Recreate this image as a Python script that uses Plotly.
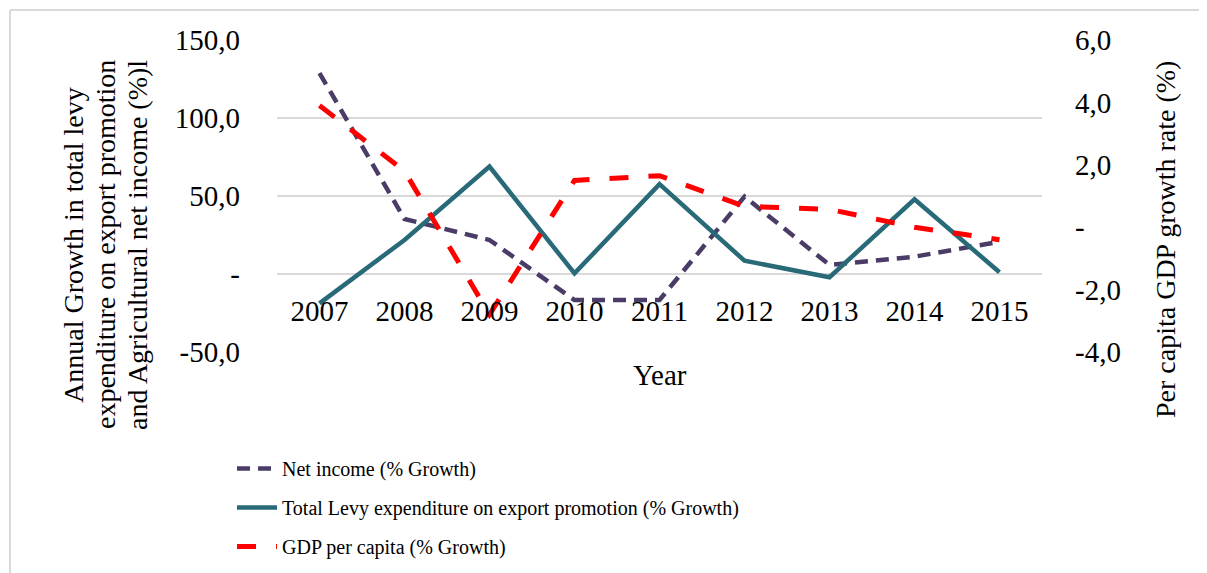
import plotly.graph_objects as go

years = ["2007", "2008", "2009", "2010", "2011", "2012", "2013", "2014", "2015"]
net_income = [128.8, 35.3, 21.8, -16.7, -16.7, 49.6, 5.8, 11.1, 20.7]
levy = [-18.8, 21.8, 68.9, 0.4, 57.6, 8.5, -2.1, 47.9, 1.1]
gdp = [3.9, 1.8, -2.8, 1.5, 1.65, 0.67, 0.57, 0.0, -0.4]

left_vals = [-50, 0, 50, 100, 150]
left_text = ["-50,0", "-", "50,0", "100,0", "150,0"]
right_vals = [-4, -2, 0, 2, 4, 6]
right_text = ["-4,0", "-2,0", "-", "2,0", "4,0", "6,0"]

FONT = "Liberation Serif, Times New Roman, serif"
OFF = 8  # page body margin
W, H = 1207 - OFF, 573 - OFF
PL, PT = 277, 40          # plot area top-left in page pixels
PW, PH = 765, 312         # plot area size
ML, MT = PL - OFF, PT - OFF
MR, MB = W - ML - PW, H - MT - PH


def px(x):
    return (x - PL) / PW


def py(y):
    return (PT + PH - y) / PH


fig = go.Figure()
fig.add_trace(go.Scatter(
    x=years, y=net_income, mode="lines", name="Net income (% Growth)",
    line=dict(color="#4A3C66", width=4.5, dash="13px,8px"),
    legendgroup="a"))
fig.add_trace(go.Scatter(
    x=years, y=levy, mode="lines",
    name="Total Levy expenditure on export promotion (% Growth)",
    line=dict(color="#296A79", width=4.5), legendgroup="b"))
fig.add_trace(go.Scatter(
    x=years, y=gdp, mode="lines", name="GDP per capita (% Growth)",
    line=dict(color="#FF0000", width=5, dash="19px,20px"),
    yaxis="y2", legendgroup="c"))

fig.update_layout(
    width=W, height=H,
    margin=dict(l=ML, r=MR, t=MT, b=MB, autoexpand=False),
    paper_bgcolor="white", plot_bgcolor="white",
    font=dict(family=FONT, size=29, color="black"),
    xaxis=dict(type="category", range=[-0.5, 8.5], anchor="free",
               position=0.25, showgrid=False, zeroline=False,
               showline=False, ticks="", ticklabelstandoff=17,
               tickfont=dict(size=29)),
    yaxis=dict(range=[-50, 150], tickvals=left_vals, ticktext=left_text,
               showgrid=True, gridcolor="#D9D9D9", gridwidth=1.5,
               zeroline=False, showline=False, ticks="",
               ticklabelstandoff=36, tickfont=dict(size=29)),
    yaxis2=dict(range=[-4, 6], tickvals=right_vals, ticktext=right_text,
                overlaying="y", side="right", showgrid=False,
                zeroline=False, showline=False, ticks="",
                ticklabelstandoff=32, tickfont=dict(size=29)),
    showlegend=True,
    legend=dict(x=px(232), y=py(449), xanchor="left", yanchor="top",
                font=dict(size=20, family=FONT), bgcolor="rgba(0,0,0,0)",
                traceorder="grouped", tracegroupgap=10, itemwidth=40),
    shapes=[
        dict(type="line", xref="paper", yref="paper",
             x0=px(10), x1=px(1207), y0=py(10), y1=py(10),
             line=dict(color="#D9D9D9", width=2)),
        dict(type="line", xref="paper", yref="paper",
             x0=px(10), x1=px(10), y0=py(10), y1=py(573),
             line=dict(color="#D9D9D9", width=2)),
    ],
    annotations=[
        dict(text="Year", xref="paper", yref="paper", x=0.5, y=py(375),
             showarrow=False, font=dict(size=29), xanchor="center",
             yanchor="middle"),
        dict(text="Annual Growth in total levy", xref="paper", yref="paper",
             x=px(73), y=py(245), textangle=-90, showarrow=False,
             font=dict(size=28), xanchor="center", yanchor="middle"),
        dict(text="expenditure on export promotion", xref="paper",
             yref="paper", x=px(105), y=py(245), textangle=-90,
             showarrow=False, font=dict(size=28), xanchor="center",
             yanchor="middle"),
        dict(text="and Agricultural net income (%)l", xref="paper",
             yref="paper", x=px(137), y=py(245), textangle=-90,
             showarrow=False, font=dict(size=28), xanchor="center",
             yanchor="middle"),
        dict(text="Per capita GDP growth rate (%)", xref="paper",
             yref="paper", x=px(1166), y=py(240), textangle=-90,
             showarrow=False, font=dict(size=28), xanchor="center",
             yanchor="middle"),
    ],
)

fig.write_html("out.html")
